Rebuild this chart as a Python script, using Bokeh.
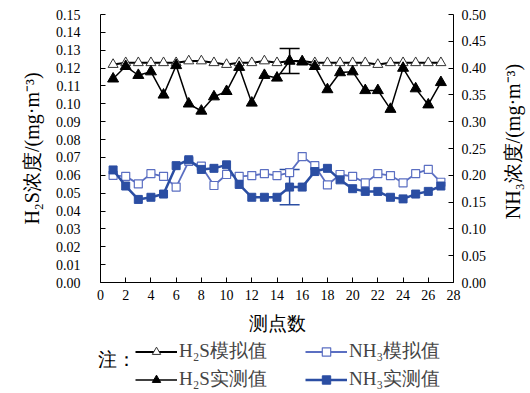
import math
from bokeh.plotting import figure
from bokeh.models import (Range1d, LinearAxis, FixedTicker, Legend, LegendItem,
                          Label, Whisker, ColumnDataSource, TeeHead, PrintfTickFormatter)
from bokeh.embed import file_html
from bokeh.resources import INLINE

points = list(range(1, 28))
h2s_sim = [0.122, 0.123, 0.123, 0.123, 0.123, 0.123, 0.124, 0.124, 0.123, 0.122,
           0.123, 0.123, 0.124, 0.123, 0.124, 0.124, 0.123, 0.123, 0.123, 0.123,
           0.123, 0.122, 0.123, 0.123, 0.123, 0.123, 0.123]
h2s_meas = [0.114, 0.121, 0.116, 0.118, 0.105, 0.1215, 0.100, 0.096, 0.104, 0.107,
            0.1205, 0.1005, 0.116, 0.1145, 0.124, 0.1235, 0.121, 0.108, 0.1175, 0.118,
            0.1075, 0.1075, 0.097, 0.120, 0.1085, 0.0995, 0.112]
nh3_sim = [0.200, 0.198, 0.184, 0.203, 0.198, 0.178, 0.226, 0.217, 0.181, 0.2015,
           0.198, 0.1995, 0.203, 0.1995, 0.205, 0.235, 0.218, 0.182, 0.2015, 0.198,
           0.186, 0.203, 0.1995, 0.186, 0.203, 0.211, 0.187]
nh3_meas = [0.210, 0.180, 0.155, 0.159, 0.165, 0.218, 0.229, 0.211, 0.213, 0.2195,
            0.183, 0.159, 0.159, 0.159, 0.178, 0.178, 0.207, 0.213, 0.1915, 0.175,
            0.170, 0.170, 0.159, 0.156, 0.165, 0.170, 0.180]
err_point = [15]
h2s_err_center = [0.124]
h2s_err = [0.007]
nh3_err_center = [0.178]
nh3_err = [0.033]

x_ticks = list(range(0, 29, 2))
left_ticks = [round(i * 0.01, 2) for i in range(16)]
right_ticks = [round(i * 0.05, 2) for i in range(11)]

X_MAX = 28
H2S_MAX = 0.15
NH3_MAX = 0.5

# The plotting frame covers the whole page; the axes are drawn at fixed data
# positions so that the texts around them (and the legend) are never clipped.
W, H = 530, 393
LEFT, RIGHT, TOP, BOTTOM = 100, 453, 14, 282   # pixel box of the data area
xs = (RIGHT - LEFT) / X_MAX
x_start, x_end = -LEFT / xs, X_MAX + (W - RIGHT) / xs
hs = (BOTTOM - TOP) / H2S_MAX
y_start, y_end = -(H - BOTTOM) / hs, H2S_MAX + TOP / hs
ns = (BOTTOM - TOP) / NH3_MAX
n_start, n_end = -(H - BOTTOM) / ns, NH3_MAX + TOP / ns

BLUE = "#2b4ea3"
BLUE_L = "#5b6fc2"
SERIF = "Liberation Serif"

p = figure(width=W, height=H, output_backend="svg", toolbar_location=None,
           x_range=Range1d(x_start, x_end), y_range=Range1d(y_start, y_end),
           min_border=0, x_axis_location=None, y_axis_location=None)
p.extra_y_ranges = {"nh3": Range1d(n_start, n_end)}
p.outline_line_color = None
p.xgrid.visible = False
p.ygrid.visible = False
p.background_fill_color = "white"
p.border_fill_color = "white"


def style_axis(ax, standoff):
    ax.major_tick_in = 5
    ax.major_tick_out = 0
    ax.minor_tick_line_color = None
    ax.axis_line_color = "black"
    ax.major_tick_line_color = "black"
    ax.major_label_text_font = SERIF
    ax.major_label_text_font_size = "14px"
    ax.major_label_text_color = "black"
    ax.major_label_standoff = standoff
    ax.axis_label_text_font = SERIF
    ax.axis_label_text_font_style = "normal"
    ax.axis_label_text_color = "black"


xa = LinearAxis(ticker=FixedTicker(ticks=x_ticks), axis_label="测点数",
                fixed_location=0, bounds=(0, X_MAX))
style_axis(xa, 7)
xa.axis_label_text_font_size = "19px"
xa.axis_label_standoff = 10
p.add_layout(xa, "below")

ya = LinearAxis(ticker=FixedTicker(ticks=left_ticks),
                formatter=PrintfTickFormatter(format="%.2f"),
                axis_label="H₂S浓度/(mg·m⁻³)", fixed_location=0,
                bounds=(0, H2S_MAX))
style_axis(ya, 20)
ya.axis_label_text_font_size = "20px"
ya.axis_label_standoff = 10
p.add_layout(ya, "left")

ra = LinearAxis(y_range_name="nh3", ticker=FixedTicker(ticks=right_ticks),
                formatter=PrintfTickFormatter(format="%.2f"),
                fixed_location=X_MAX, bounds=(0, NH3_MAX))
style_axis(ra, 8)
p.add_layout(ra, "right")

right_title = Label(x=512, y=H - 141, x_units="screen", y_units="screen",
                    text="NH₃浓度/(mg·m⁻³)", angle=math.pi / 2,
                    text_font=SERIF, text_font_size="20px", text_align="center",
                    text_baseline="middle", text_color="black")
p.add_layout(right_title)

# H2S simulated
l1 = p.line(points, h2s_sim, line_color="black", line_width=2)
s1 = p.scatter(points, h2s_sim, marker="triangle", size=10, fill_color="white",
               line_color="#333333", line_width=1)
# H2S measured
l2 = p.line(points, h2s_meas, line_color="black", line_width=1.5)
s2 = p.scatter(points, h2s_meas, marker="triangle", size=11, fill_color="black",
               line_color="black")
# NH3 simulated
l3 = p.line(points, nh3_sim, line_color=BLUE_L, line_width=1.8, y_range_name="nh3")
s3 = p.scatter(points, nh3_sim, marker="square", size=8, fill_color="white",
               line_color=BLUE_L, line_width=1.2, y_range_name="nh3")
# NH3 measured
l4 = p.line(points, nh3_meas, line_color=BLUE, line_width=2.5, y_range_name="nh3")
s4 = p.scatter(points, nh3_meas, marker="square", size=8, fill_color=BLUE,
               line_color=BLUE, y_range_name="nh3")

# error bars
src_h = ColumnDataSource(dict(x=err_point,
                              lo=[c - e for c, e in zip(h2s_err_center, h2s_err)],
                              hi=[c + e for c, e in zip(h2s_err_center, h2s_err)]))
wh = Whisker(source=src_h, base="x", lower="lo", upper="hi", line_color="black",
             line_width=1.5,
             upper_head=TeeHead(size=20, line_color="black", line_width=1.5),
             lower_head=TeeHead(size=20, line_color="black", line_width=1.5))
p.add_layout(wh)
src_n = ColumnDataSource(dict(x=err_point,
                              lo=[c - e for c, e in zip(nh3_err_center, nh3_err)],
                              hi=[c + e for c, e in zip(nh3_err_center, nh3_err)]))
wn = Whisker(source=src_n, base="x", lower="lo", upper="hi", line_color=BLUE,
             line_width=1.5, y_range_name="nh3",
             upper_head=TeeHead(size=20, line_color=BLUE, line_width=1.5),
             lower_head=TeeHead(size=20, line_color=BLUE, line_width=1.5))
p.add_layout(wn)


def make_legend(items, x):
    return Legend(items=items, location=(x, 1), orientation="vertical",
                  glyph_width=42, glyph_height=21, label_height=21,
                  label_text_font=SERIF, label_text_font_size="19px",
                  label_standoff=2, spacing=2, padding=0, margin=0,
                  border_line_color=None, background_fill_alpha=0)


leg1 = make_legend([LegendItem(label="H₂S模拟值", renderers=[l1, s1]),
                    LegendItem(label="H₂S实测值", renderers=[l2, s2])], 135)
leg2 = make_legend([LegendItem(label="NH₃模拟值", renderers=[l3, s3]),
                    LegendItem(label="NH₃实测值", renderers=[l4, s4])], 305)
p.add_layout(leg1)
p.add_layout(leg2)

note = Label(x=97, y=H - 359, x_units="screen", y_units="screen", text="注：",
             text_font=SERIF, text_font_size="19px", text_align="left",
             text_baseline="middle", text_color="black")
p.add_layout(note)

open("out.html", "w").write(file_html(p, INLINE))
